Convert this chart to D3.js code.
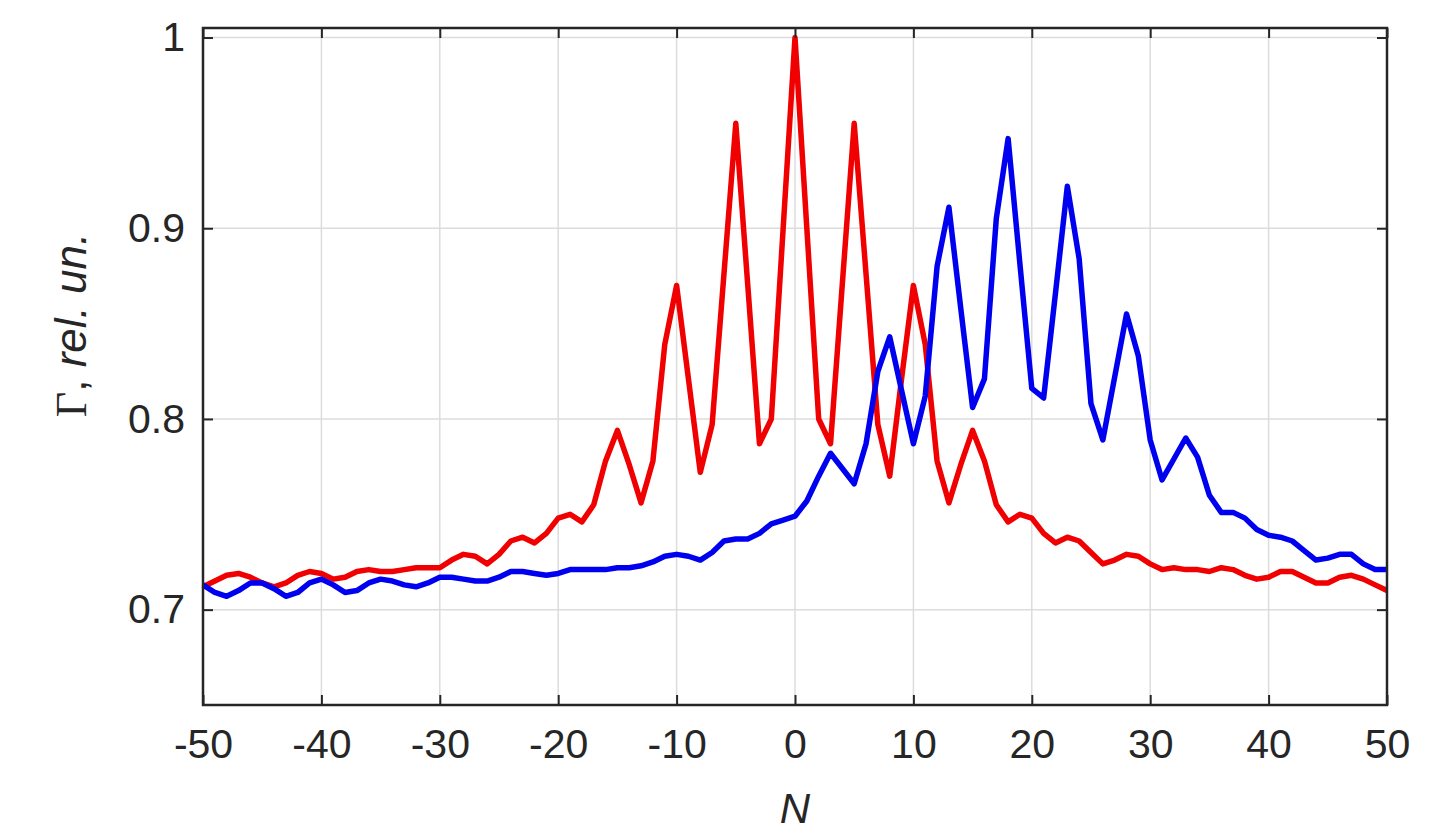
<!DOCTYPE html>
<html>
<head>
<meta charset="utf-8">
<script src="https://cdn.jsdelivr.net/npm/d3@7"></script>
<style>
  body { margin: 0; background: #fff; }
  svg { display: block; }
  .tick text { font-family: "Liberation Sans", Arial, sans-serif; font-size: 41px; fill: #262626; }
</style>
</head>
<body>
<div id="chart"></div>
<script>
// N = -50 .. 50
var nValues = d3.range(-50, 51)

var redValues = [
  0.712, 0.715, 0.718, 0.719, 0.717, 0.714, 0.712, 0.714, 0.718, 0.720,
  0.719, 0.716, 0.717, 0.720, 0.721, 0.720, 0.720, 0.721, 0.722, 0.722,
  0.722, 0.726, 0.729, 0.728, 0.724, 0.729, 0.736, 0.738, 0.735, 0.740,
  0.748, 0.750, 0.746, 0.755, 0.778, 0.794, 0.776, 0.756, 0.778, 0.839,
  0.870, 0.821, 0.772, 0.797, 0.876, 0.955, 0.871, 0.787, 0.800, 0.900,
  1.000,
  0.900, 0.800, 0.787, 0.871, 0.955, 0.876, 0.797, 0.770, 0.821, 0.870,
  0.839, 0.778, 0.756, 0.776, 0.794, 0.778, 0.755, 0.746, 0.750, 0.748,
  0.740, 0.735, 0.738, 0.736, 0.730, 0.724, 0.726, 0.729, 0.728, 0.724,
  0.721, 0.722, 0.721, 0.721, 0.720, 0.722, 0.721, 0.718, 0.716, 0.717,
  0.720, 0.720, 0.717, 0.714, 0.714, 0.717, 0.718, 0.716, 0.713, 0.710
]

var blueValues = [
  0.713, 0.709, 0.707, 0.710, 0.714, 0.714, 0.711, 0.707, 0.709, 0.714,
  0.716, 0.713, 0.709, 0.710, 0.714, 0.716, 0.715, 0.713, 0.712, 0.714,
  0.717, 0.717, 0.716, 0.715, 0.715, 0.717, 0.720, 0.720, 0.719, 0.718,
  0.719, 0.721, 0.721, 0.721, 0.721, 0.722, 0.722, 0.723, 0.725, 0.728,
  0.729, 0.728, 0.726, 0.730, 0.736, 0.737, 0.737, 0.740, 0.745, 0.747,
  0.749,
  0.757, 0.770, 0.782, 0.774, 0.766, 0.787, 0.825, 0.843, 0.815, 0.787,
  0.812, 0.880, 0.911, 0.858, 0.806, 0.821, 0.905, 0.947, 0.881, 0.816,
  0.811, 0.866, 0.922, 0.884, 0.808, 0.789, 0.822, 0.855, 0.833, 0.789,
  0.768, 0.779, 0.790, 0.780, 0.760, 0.751, 0.751, 0.748, 0.742, 0.739,
  0.738, 0.736, 0.731, 0.726, 0.727, 0.729, 0.729, 0.724, 0.721, 0.721
]

var xTicks = [-50, -40, -30, -20, -10, 0, 10, 20, 30, 40, 50]
var yTicks = [0.7, 0.8, 0.9, 1]

var width = 1434, height = 834
var margin = {left: 203, right: 47, top: 28, bottom: 129}

var svg = d3.select('#chart').append('svg')
  .attr('width', width)
  .attr('height', height)

var x = d3.scaleLinear().domain([-50, 50]).range([margin.left, width - margin.right])
var y = d3.scaleLinear().domain([0.65, 1.005]).range([height - margin.bottom, margin.top])

// grid
svg.append('g').selectAll('line').data(xTicks).join('line')
  .attr('x1', d => x(d)).attr('x2', d => x(d))
  .attr('y1', y.range()[1]).attr('y2', y.range()[0])
  .attr('stroke', '#dcdcdc').attr('stroke-width', 1.5)
svg.append('g').selectAll('line').data(yTicks).join('line')
  .attr('x1', x.range()[0]).attr('x2', x.range()[1])
  .attr('y1', d => y(d)).attr('y2', d => y(d))
  .attr('stroke', '#dcdcdc').attr('stroke-width', 1.5)

var line = d3.line().x((d, i) => x(nValues[i])).y(d => y(d))

svg.append('path').datum(redValues)
  .attr('d', line)
  .attr('fill', 'none').attr('stroke', '#f00000')
  .attr('stroke-width', 5.5).attr('stroke-linejoin', 'round')

svg.append('path').datum(blueValues)
  .attr('d', line)
  .attr('fill', 'none').attr('stroke', '#0000f0')
  .attr('stroke-width', 5.5).attr('stroke-linejoin', 'round')

// axes, ticks inside like matlab, plain hyphen for minus
var xAxis = d3.axisBottom(x).tickValues(xTicks).tickSize(-10).tickPadding(24).tickFormat(d => String(d))
var xAxisTop = d3.axisTop(x).tickValues(xTicks).tickSize(-10).tickFormat('')
var yAxis = d3.axisLeft(y).tickValues(yTicks).tickSize(-10).tickPadding(18).tickFormat(d => d == 1 ? '1' : d3.format('.1f')(d))
var yAxisRight = d3.axisRight(y).tickValues(yTicks).tickSize(-10).tickFormat('')

function styleAxis(g){
  g.select('.domain').remove()
  g.selectAll('.tick line').attr('stroke', '#262626').attr('stroke-width', 2)
}

svg.append('g').attr('transform', 'translate(0,' + y.range()[0] + ')').call(xAxis).call(styleAxis)
svg.append('g').attr('transform', 'translate(0,' + y.range()[1] + ')').call(xAxisTop).call(styleAxis)
svg.append('g').attr('transform', 'translate(' + x.range()[0] + ',0)').call(yAxis).call(styleAxis)
svg.append('g').attr('transform', 'translate(' + x.range()[1] + ',0)').call(yAxisRight).call(styleAxis)

svg.selectAll('.tick text').attr('font-family', null).attr('font-size', null)

// box
svg.append('rect')
  .attr('x', x.range()[0]).attr('y', y.range()[1])
  .attr('width', x.range()[1] - x.range()[0])
  .attr('height', y.range()[0] - y.range()[1])
  .attr('fill', 'none').attr('stroke', '#262626').attr('stroke-width', 2.5)

// labels
svg.append('text')
  .attr('x', x(0)).attr('y', 823)
  .attr('text-anchor', 'middle')
  .attr('font-family', '"Liberation Sans", Arial, sans-serif')
  .attr('font-size', 42).attr('font-style', 'italic').attr('fill', '#262626')
  .text('N')

var yl = svg.append('text')
  .attr('transform', 'translate(86,' + 325 + ') rotate(-90)')
  .attr('text-anchor', 'middle')
  .attr('font-size', 44).attr('fill', '#262626')
yl.append('tspan').attr('font-family', '"Liberation Serif", "Times New Roman", serif').text('Γ')
yl.append('tspan').attr('font-family', '"Liberation Sans", Arial, sans-serif').text(', ')
yl.append('tspan').attr('font-family', '"Liberation Sans", Arial, sans-serif').attr('font-style', 'italic').text('rel. un.')
</script>
</body>
</html>
